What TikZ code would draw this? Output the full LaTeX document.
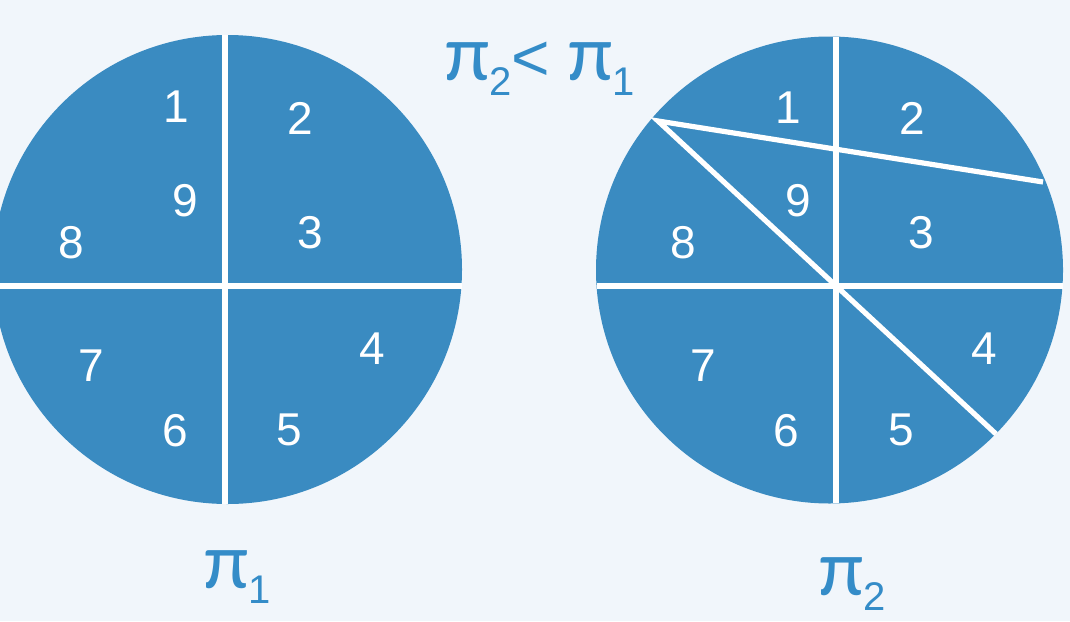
\documentclass[tikz,border=0pt]{standalone}
\usepackage{fontspec}
\setmainfont{Liberation Sans}
\newfontfamily\pifont{Carlito}
\usetikzlibrary{positioning}

\definecolor{discblue}{RGB}{58,139,193}
\definecolor{labelblue}{RGB}{52,140,200}
\definecolor{bgcol}{RGB}{241,246,251}
\newcommand{\pisub}[1]{{\pifont\fontsize{40}{40}\selectfont π}\raisebox{-0.24em}{\fontsize{20}{20}\selectfont #1}}

\begin{document}
\begin{tikzpicture}[x=0.5pt, y=-0.5pt,
    num/.style={text=white, font=\fontsize{23}{23}\selectfont, inner sep=0pt},
    cut/.style={white, line width=3pt},
    slash/.style={white, line width=2.6pt, line join=miter},
    pilabel/.style={text=labelblue, font=\fontsize{33}{33}\selectfont, inner sep=0pt, anchor=base west}]
    \fill[bgcol] (0,0) rectangle (1070,621);
    \useasboundingbox (0,0) rectangle (1070,621);

    % left disc
    \fill[discblue] (227.5,269.5) circle [radius=234.5];
    \coordinate (lt) at (224.5,35);
    \coordinate (lb) at (224.5,504);
    \coordinate (ll) at (-6.5,285.5);
    \coordinate (lr) at (461.5,285.5);
    \draw[cut] (lt) -- (lb);
    \draw[cut] (ll) -- (lr);

    \node[num] (l1) at (176.5,107) {1};
    \node[num] (l2) at (300,118.5) {2};
    \node[num] (l3) at (310,232.5) {3};
    \node[num] (l4) at (372.5,349) {4};
    \node[num] (l5) at (289,430) {5};
    \node[num] (l6) at (175,431) {6};
    \node[num] (l7) at (91.5,366) {7};
    \node[num] (l8) at (71,243) {8};
    \node[num] (l9) at (185,201) {9};

    % right disc
    \fill[discblue] (829.5,270) circle [radius=233.5];
    \coordinate (rt) at (836,36.6);
    \coordinate (rb) at (836,503.4);
    \coordinate (rl) at (596.5,285.5);
    \coordinate (rr) at (1062.5,285.5);
    \draw[cut] (rt) -- (rb);
    \draw[cut] (rl) -- (rr);
    \coordinate (p) at (658,121);
    \coordinate (q1) at (1043,182);
    \coordinate (q2) at (996,434);
    \draw[slash] (q1) -- (p) -- (q2);

    \node[num] (r1) at (788,108) {1};
    \node[num] (r2) at (912.5,118.5) {2};
    \node[num] (r3) at (921.5,232.5) {3};
    \node[num] (r4) at (984,349) {4};
    \node[num] (r5) at (901.5,430) {5};
    \node[num] (r6) at (786.5,431) {6};
    \node[num] (r7) at (703,366) {7};
    \node[num] (r8) at (683,243) {8};
    \node[num] (r9) at (798,201) {9};

    % labels
    \node[pilabel] (cmp) at (445,80) {\pisub{2}< \pisub{1}};
    \node[pilabel] (pi1) at (204,588) {\pisub{1}};
    \node[pilabel] (pi2) at (819,595) {\pisub{2}};
\end{tikzpicture}
\end{document}
